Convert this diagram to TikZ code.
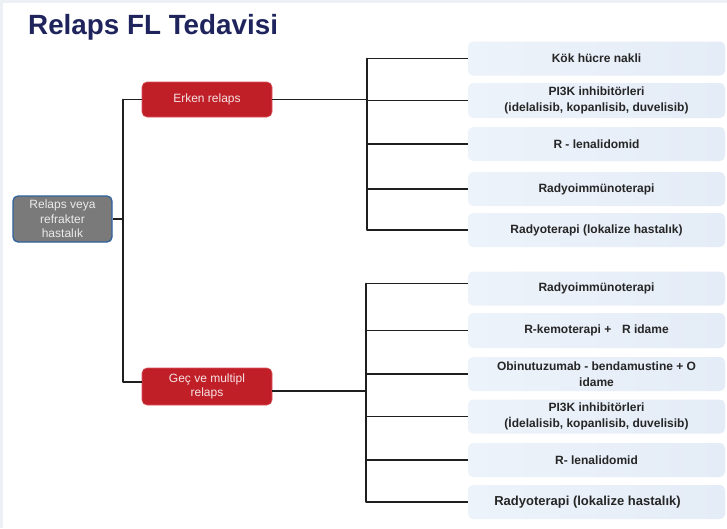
\documentclass[tikz,border=0pt]{standalone}
\usepackage{fontspec}
\setmainfont{Liberation Sans}
\begin{document}
\begin{tikzpicture}[x=1pt,y=-1pt,
  conn/.style={draw=black!88, line width=1.8pt},
  rootbox/.style={draw=rootedge, line width=1.3pt, fill=rootfill, rounded corners=5pt,
    text=white!92!black, minimum width=99pt, minimum height=46pt, inner sep=0pt,
    align=center, font=\fontsize{12}{14.5}\selectfont},
  redbox/.style={draw=rededge, line width=0.6pt, fill=redfill, rounded corners=5pt,
    text=redtext, minimum width=130pt, inner sep=0pt,
    align=center, font=\fontsize{12}{13.5}\selectfont},
  treat/.style={rounded corners=5pt, left color=treatL, middle color=treatM, right color=treatR,
    minimum width=257pt, minimum height=34pt, inner sep=0pt, text=black!85,
    align=center, font=\bfseries\fontsize{12}{16}\selectfont}
]
\definecolor{rootedge}{HTML}{2F619C}
\definecolor{rootfill}{HTML}{7A7A7A}
\definecolor{rededge}{HTML}{D9545B}
\definecolor{redfill}{HTML}{C01F28}
\definecolor{redtext}{HTML}{F6E4E4}
\definecolor{treatL}{HTML}{EDF3FA}
\definecolor{treatM}{HTML}{CCDCEF}
\definecolor{treatR}{HTML}{E4ECF7}
\definecolor{titlecol}{HTML}{1F245C}
\definecolor{edgeband}{HTML}{EDF1F6}

\useasboundingbox (0,0) rectangle (727,528);
\fill[white] (0,0) rectangle (727,528);
\fill[edgeband] (0,0) rectangle (727,3);
\fill[edgeband] (0,0) rectangle (3,528);

% title
\node[anchor=base west, inner sep=0pt, text=titlecol, font=\bfseries\fontsize{27.8}{30}\selectfont]
  (title) at (28,34) {Relaps FL Tedavisi};

% trunk positions
\coordinate (t0) at (123,0);
\coordinate (t1) at (367,0);
\coordinate (t2) at (366,0);

% main nodes
\node[rootbox] (root) at (62.5,219) {Relaps veya\\refrakter\\hastalık};
\node[redbox, minimum height=35pt] (erken) at (207,99.5) {\raisebox{-1.5pt}{Erken relaps}};
\node[redbox, minimum height=37pt] (gec) at (207,386.5) {Geç ve multipl\\relaps};

% early relapse options
\node[treat] (a1) at (596.5,58.5) {\raisebox{-1.5pt}{Kök hücre nakli}};
\node[treat, minimum height=35pt] (a2) at (596.5,100.5) {PI3K inhibitörleri\\(idelalisib, kopanlisib, duvelisib)};
\node[treat] (a3) at (596.5,144) {\raisebox{-1.5pt}{R - lenalidomid}};
\node[treat] (a4) at (596.5,189) {\raisebox{-1.5pt}{Radyoimmünoterapi}};
\node[treat] (a5) at (596.5,230) {\raisebox{-1.5pt}{Radyoterapi (lokalize hastalık)}};

% late / multiple relapse options
\node[treat] (b1) at (596.5,288.5) {\raisebox{-1.5pt}{Radyoimmünoterapi}};
\node[treat, minimum height=35pt] (b2) at (596.5,330.5) {\raisebox{-1.5pt}{R-kemoterapi +\hspace{0.9em}R idame}};
\node[treat] (b3) at (596.5,374) {Obinutuzumab - bendamustine + O\\idame};
\node[treat] (b4) at (596.5,416.5) {PI3K inhibitörleri\\(İdelalisib, kopanlisib, duvelisib)};
\node[treat] (b5) at (596.5,460) {\raisebox{-1.5pt}{R- lenalidomid}};
\node[treat, font=\bfseries\fontsize{13}{16}\selectfont] (b6) at (596.5,502)
  {\raisebox{-1.5pt}{Radyoterapi (lokalize hastalık)}\hspace*{18pt}};

% left tree
\draw[conn] (root.east) -- (root.east -| t0);
\draw[conn, line cap=round] (erken.west -| t0) -- ([yshift=4.5pt]gec.west -| t0);
\draw[conn] (erken.west -| t0) -- (erken.west);
\draw[conn] ([yshift=4.5pt]gec.west -| t0) -- ([yshift=4.5pt]gec.west);

% upper right tree
\draw[conn] (erken.east) -- (erken.east -| t1);
\draw[conn, line cap=round] (a1.west -| t1) -- (a5.west -| t1);
\foreach \n in {a1,a2,a3,a4,a5}
  \draw[conn] (\n.west -| t1) -- (\n.west);

% lower right tree
\draw[conn] ([yshift=-4.5pt]gec.east) -- ([yshift=-4.5pt]gec.east -| t2);
\draw[conn, line cap=round] ([yshift=5pt]b1.west -| t2) -- (b6.west -| t2);
\draw[conn] ([yshift=5pt]b1.west -| t2) -- ([yshift=5pt]b1.west);
\foreach \n in {b2,b3,b4,b5,b6}
  \draw[conn] (\n.west -| t2) -- (\n.west);
\end{tikzpicture}
\end{document}
